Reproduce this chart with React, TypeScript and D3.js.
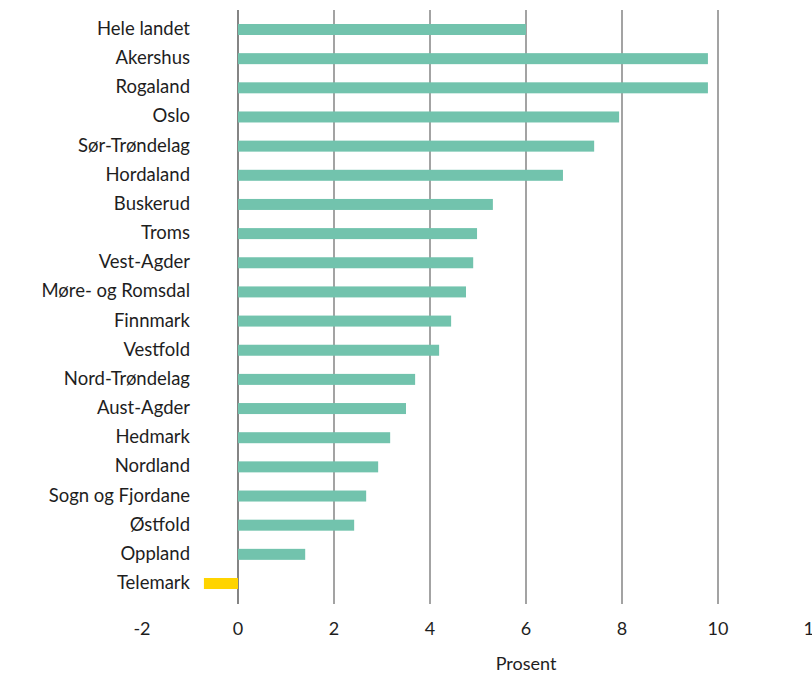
import React from "react";
import * as d3 from "d3";

const categories = [
  "Hele landet", "Akershus", "Rogaland", "Oslo", "Sør-Trøndelag", "Hordaland",
  "Buskerud", "Troms", "Vest-Agder", "Møre- og Romsdal", "Finnmark", "Vestfold",
  "Nord-Trøndelag", "Aust-Agder", "Hedmark", "Nordland", "Sogn og Fjordane",
  "Østfold", "Oppland", "Telemark",
];
const values = [
  6.0, 9.79, 9.79, 7.94, 7.42, 6.77,
  5.31, 4.98, 4.9, 4.75, 4.44, 4.19,
  3.69, 3.5, 3.17, 2.92, 2.67,
  2.42, 1.4, -0.71,
];
const xTicks = [-2, 0, 2, 4, 6, 8, 10, 12];
const gridTicks = [0, 2, 4, 6, 8, 10];
const xLabel = "Prosent";

const W = 812;
const H = 677;
const FONT = "Lato, 'Open Sans', sans-serif";

export default function App() {
  const x = d3.scaleLinear().domain([-2, 12]).range([142, 814]);
  const y = d3.scalePoint<string>().domain(categories).range([29.5, 583.5]);
  const barH = 11;

  return (
    <svg
      width={W}
      height={H}
      style={{ position: "absolute", left: 0, top: 0, background: "#fff" }}
      fontFamily={FONT}
    >
      {gridTicks.map((t) => (
        <line
          key={"g" + t}
          x1={x(t)}
          x2={x(t)}
          y1={10}
          y2={604}
          stroke={t === 0 ? "#333" : "#666"}
          strokeWidth={1.2}
        />
      ))}
      {categories.map((c, i) => {
        const v = values[i];
        const x0 = x(Math.min(0, v));
        const x1 = x(Math.max(0, v));
        return (
          <rect
            key={"b" + c}
            x={x0}
            y={(y(c) as number) - barH / 2}
            width={x1 - x0}
            height={barH}
            fill={v < 0 ? "#FFD400" : "#72C3AD"}
          />
        );
      })}
      {categories.map((c) => (
        <text
          key={"l" + c}
          x={190}
          y={(y(c) as number) - 1.5}
          textAnchor="end"
          dominantBaseline="central"
          fontSize={18.5}
          fill="#1e1e1e"
        >
          {c}
        </text>
      ))}
      {xTicks.map((t) => (
        <text
          key={"t" + t}
          x={x(t)}
          y={628}
          textAnchor="middle"
          dominantBaseline="central"
          fontSize={18}
          fill="#1e1e1e"
        >
          {t}
        </text>
      ))}
      <text
        x={x(6)}
        y={663}
        textAnchor="middle"
        dominantBaseline="central"
        fontSize={18}
        fill="#1e1e1e"
      >
        {xLabel}
      </text>
    </svg>
  );
}
